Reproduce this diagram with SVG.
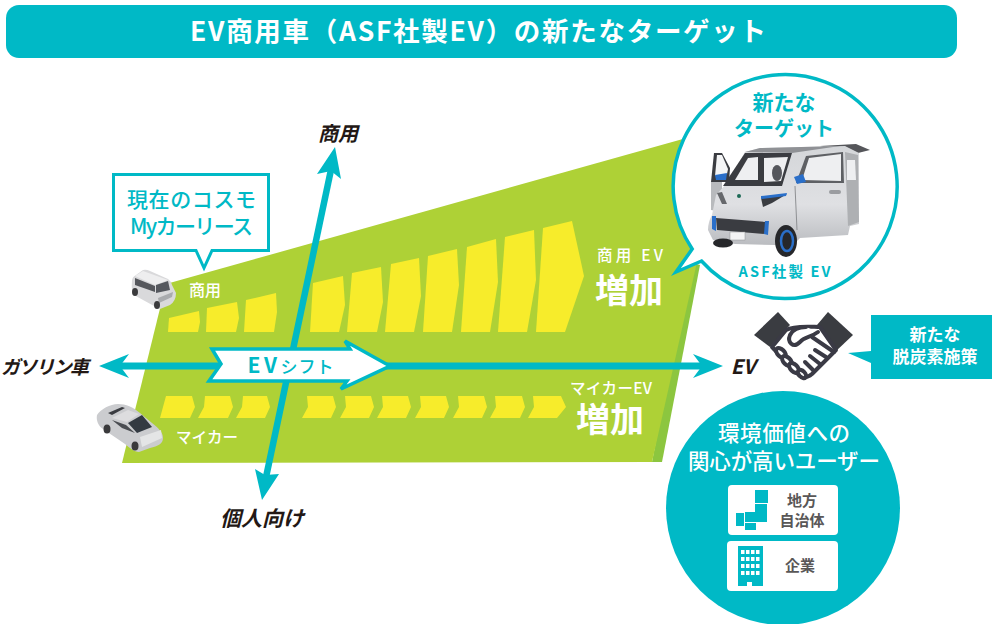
<svg xmlns="http://www.w3.org/2000/svg" width="992" height="624" viewBox="0 0 992 624">
<style>
text{font-family:"Noto Sans CJK JP","Noto Sans",sans-serif;text-anchor:middle}
.w{fill:#fff}.t{fill:#00b9c6}.b{font-weight:700}.m{font-weight:500}
.i{font-style:italic;font-weight:700;fill:#231815}
.y{fill:#f7ec2b}.g{fill:#595757;font-weight:700;font-size:15px}
.ax{stroke:#00b9c6;fill:none}.hd{fill:#00b9c6}
.hs{fill:#fff;stroke:#3a3a45;stroke-width:4;stroke-linejoin:round;stroke-linecap:round}
.dk{fill:#3a3c41}.gl{fill:#eeeff1}.bl{fill:#2a6fc9}.ic{fill:#00b9c6}
</style>
<defs><linearGradient id="silver" x1="0" y1="0" x2="0" y2="1"><stop offset="0" stop-color="#d4d6d9"/><stop offset=".55" stop-color="#dfe0e3"/><stop offset="1" stop-color="#b4b6ba"/></linearGradient></defs>
<rect width="992" height="624" fill="#fff"/>
<g id="title"><rect x="6" y="5" width="951" height="53" rx="13" fill="#00b9c6"/>
<text class="w b" x="478" y="41" font-size="26.500" textLength="576">EV商用車（ASF社製EV）の新たなターゲット</text></g>

<g id="market-area">
<polygon points="652,462 662,462 700,265 690,262" fill="#8cc63f"/>
<polygon points="122,463 166,284 690,137 697,262 652,462" fill="#aed136"/>
<g id="commercial-chevrons" class="y">
<polygon points="168,332 169,318 199,311 200,322 198,332"/>
<polygon points="206,332 207,308 237,302 239,318 236,332"/>
<polygon points="244,332 246,300 276,293 277,312 274,332"/>
<polygon points="310,332 313,283 343,276 345,305 339,332"/>
<polygon points="347,332 352,273 381,267 383,302 377,332"/>
<polygon points="385,332 391,264 419,258 421,296 414,332"/>
<polygon points="423,332 428,256 457,249 459,285 452,332"/>
<polygon points="461,332 467,247 496,239 498,282 490,332"/>
<polygon points="498,332 505,237 534,230 536,280 527,332"/>
<polygon points="536,332 543,228 572,221 584,276 565,332"/>
</g>
<g id="private-chevrons" class="y">
<polygon points="160,418 166,396 192,396 195,407 190,418"/>
<polygon points="198,418 204,407 205,396 230,396 233,407 228,418"/>
<polygon points="236,418 242,407 243,396 267,396 270,407 265,418"/>
<polygon points="302,418 308,407 307,396 333,396 336,407 331,418"/>
<polygon points="340,418 346,407 345,396 371,396 374,407 369,418"/>
<polygon points="377,418 383,407 382,396 408,396 411,407 406,418"/>
<polygon points="415,418 421,407 420,396 446,396 449,407 444,418"/>
<polygon points="453,418 459,407 458,396 484,396 487,407 482,418"/>
<polygon points="490,418 496,407 495,396 522,396 525,407 520,418"/>
<polygon points="528,418 534,407 533,396 561,396 566,407 557,418"/>
</g>
<text class="w m" x="205" y="296" font-size="16">商用</text>
<text class="w m" x="207" y="443" font-size="15.500">マイカー</text>
<text class="w m" x="630" y="261" font-size="15.500" textLength="66">商用 EV</text>
<text class="w b" x="629" y="303" font-size="34">増加</text>
<text class="w m" x="611" y="394" font-size="15.500" textLength="82">マイカーEV</text>
<text class="w b" x="610" y="432" font-size="34">増加</text>
</g>

<g id="connectors">
<line class="ax" stroke-width="6.5" x1="332" y1="165" x2="265" y2="482"/>
<polygon class="hd" points="335,147 341,179 331,171 317,174"/>
<polygon class="hd" points="262,500 255,469 265,475 279,474"/>
<line class="ax" stroke-width="7" x1="115" y1="366" x2="708" y2="366"/>
<polygon class="hd" points="99,366 129,354 120,366 129,378"/>
<polygon class="hd" points="723,366 693,354 702,366 693,378"/>
</g>

<g id="ev-shift">
<polygon points="212,349 350,349 345,341 390,366 341,389 347,381 209,381 221,364" fill="#fff" stroke="#00b9c6" stroke-width="3.500" stroke-linejoin="miter"/>
<text class="t b" x="291" y="373" font-size="21"><tspan letter-spacing="3.500">EV</tspan><tspan font-size="17" font-weight="500" letter-spacing="1">シフト</tspan></text>
</g>

<g id="axis-labels">
<text class="i" x="338" y="141" font-size="20">商用</text>
<text class="i" x="45" y="374" font-size="19" textLength="88">ガソリン車</text>
<text class="i" x="262" y="526" font-size="21">個人向け</text>
<text class="i" x="743" y="374" font-size="20">EV</text>
</g>

<g id="current-callout">
<path d="M113.500,174.500H268.500V250.500H212L204,268L196,250.500H113.500Z" fill="#fff" stroke="#00b9c6" stroke-width="3"/>
<text class="t m" x="191.500" y="207" font-size="21" textLength="129">現在のコスモ</text>
<text class="t m" x="191.500" y="234" font-size="21" textLength="123">Myカーリース</text>
</g>

<g id="mini-van">
<path d="M132,281Q132,277 136,275L143,270Q146,269 150,271L168,279Q171,281 172,285L176,293Q176,301 170,305L160,309Q157,309 154,306L134,295Q131,291 132,281Z" fill="#d9d9db"/>
<polygon points="135,276 143,271 168,280 155,285" fill="#eeeeef"/>
<polygon points="135,278 155,286 155,292 135,285" fill="#55575c"/>
<polygon points="156,285 168,281 170,290 156,293" fill="#55585e"/>
<polygon points="158,298 173,292 172,297 159,303" fill="#a9abae"/>
<ellipse cx="135" cy="292" rx="3" ry="4" fill="#3a3a3c"/><ellipse cx="157" cy="305" rx="3" ry="4" fill="#3a3a3c"/>
</g>

<g id="sedan">
<path d="M97,415C101,409 110,404 118,404C126,404 133,407 140,413L152,423C158,428 163,432 163,438C163,444 158,446 150,448L139,452C134,452 130,448 125,444L103,429C98,426 96,420 97,415Z" fill="#cbcccf"/>
<polygon points="108,413 122,407 125,408 112,415" class="dk"/>
<polygon points="112,418 128,410 139,414 127,422" fill="#dddddf"/>
<polygon points="112,420 126,425 135,433 122,428" fill="#4a4d52"/>
<polygon points="128,423 142,415 152,427 137,433" fill="#333a42"/>
<polygon points="140,437 161,430 162,438 142,447" fill="#e4e5e6"/>
<ellipse cx="107" cy="429" rx="3.500" ry="4.500" fill="#3a3a3c"/><ellipse cx="135" cy="446" rx="3.500" ry="4.500" fill="#3a3a3c"/>
</g>

<g id="target-bubble">
<path d="M692.200,249A112,112 0 1 1 701.500,261L676,272Z" fill="#fff" stroke="#00b9c6" stroke-width="3.500" stroke-linejoin="miter"/>
<text class="t b" x="784" y="110" font-size="21">新たな</text>
<text class="t b" x="784" y="136" font-size="20">ターゲット</text>
<text class="t b" x="784.500" y="277" font-size="14.500" textLength="92">ASF社製 EV</text>
<g id="ev-car">
<path d="M820,146L856,144L870,150L858,153L838,151Z" fill="#55565a"/>
<polygon points="711,182 714,153 722,153 730,168 729,182" class="dk"/>
<polygon points="715,176 717,155 722,155 728,169 727,174" fill="#f4f5f6"/>
<polygon points="715,175 727,173 726,180 716,180" class="bl"/>
<polygon points="711,182 722,182 722,212 711,210" fill="#b8babd"/>
<path d="M745,152L760,148L845,146L859,153L859,224L850,226L848,235L800,238L786,252L775,245L735,244L713,240L708,230Q708,222 712,215L716,195L727,183Z" fill="url(#silver)"/>
<polygon points="745,152 760,148 840,146 792,153" fill="#8f9195"/>
<polygon points="723,186 745,153 792,153 782,186" fill="#3a3c41"/>
<polygon points="735,180 748,158 758,157 758,180" class="gl"/>
<polygon points="764,158 788,157 781,181 764,182" class="gl"/>
<ellipse cx="777" cy="173" rx="5" ry="8" fill="#55575c"/>
<polygon points="796,183 806,156 843,152 844,183" fill="#5e6064"/>
<polygon points="802,180 809,158 841,154 841,181" class="gl"/>
<polygon points="845,152 858,155 859,222 848,226" fill="#aeb0b3"/>
<polygon points="847,160 855,160 856,180 847,180" fill="#eeeff1"/>
<polygon points="794,177 803,174 806,182 797,184" class="bl"/>
<line x1="795" y1="186" x2="797" y2="230" stroke="#8e9093" stroke-width="1"/>
<rect x="829" y="190" width="12" height="4" rx="2" fill="#9a9ca0"/>
<polygon points="761,198 787,194 772,203 763,207" class="dk"/>
<polygon points="761,196 787,193 786,196 761,199" class="bl"/>
<polygon points="717,193 722,192 727,204 722,204" fill="#66686c"/>
<circle cx="739" cy="196" r="2" fill="#1d6a55"/>
<polygon points="716,218 766,222 765,234 717,230" class="dk"/>
<polygon points="712,216 716,216 716,231 712,229" class="bl"/><polygon points="765,221 769,221 768,235 764,234" class="bl"/>
<rect x="730" y="232" width="15" height="8" fill="#f4f4f5" stroke="#8e9093" stroke-width=".5"/>
<ellipse cx="723" cy="243" rx="10" ry="4.500" fill="#26272a"/>
<ellipse cx="786" cy="241" rx="11" ry="16" fill="#26272a"/>
<ellipse cx="787" cy="241" rx="6" ry="10" fill="none" stroke="#2a6fc9" stroke-width="2.500"/>
</g>
</g>

<g id="handshake">
<polygon class="dk" points="778,312 790,325 770,347 754,335"/>
<polygon class="dk" points="828,312 853,335 835,352 817,325"/>
<path class="hs" d="M786,330C795,325 812,327 820,327L836,350L812,374C806,379 801,378 797,373L772,347Z"/>
<path class="hs" fill="none" d="M818,332C810,338 805,336 800,342C793,349 787,342 790,335C793,329 800,327 806,327"/>
<path class="hs" d="M812,337L834,352"/>
<g class="hs"><ellipse cx="781" cy="353" rx="6" ry="3.500" transform="rotate(45 781 353)"/><ellipse cx="787" cy="361" rx="6" ry="3.500" transform="rotate(45 787 361)"/><ellipse cx="794" cy="368" rx="6" ry="3.500" transform="rotate(45 794 368)"/><ellipse cx="802" cy="374" rx="5" ry="3" transform="rotate(45 802 374)"/></g>
<path class="hs" d="M826,357L815,350M820,364L810,356M813,370L805,362"/>
</g>

<g id="decarbonization">
<polygon points="871,315 992,315 992,379 871,379 871,363 848,353 871,351" fill="#00b9c6"/>
<text class="w b" x="935" y="341" font-size="17">新たな</text>
<text class="w b" x="935" y="363" font-size="17">脱炭素施策</text>
</g>

<g id="users">
<circle cx="783" cy="508" r="117" fill="#00b9c6"/>
<text class="w m" x="784" y="441" font-size="21.500" textLength="132">環境価値への</text>
<text class="w m" x="784" y="469" font-size="21.500" textLength="192">関心が高いユーザー</text>
</g>
<g id="local-gov">
<rect x="728" y="485" width="110" height="50" rx="4" fill="#fff"/>
<rect class="ic" x="755" y="490" width="13" height="13"/>
<polygon class="ic" points="755,504 767,504 767,522 745,522 745,512 755,512"/>
<rect class="ic" x="736" y="513" width="8" height="13"/>
<rect class="ic" x="745" y="523" width="11" height="7"/>
<text class="g" x="802" y="506">地方</text><text class="g" x="802" y="526">自治体</text>
</g>
<g id="company">
<rect x="727" y="541" width="111" height="50" rx="4" fill="#fff"/>
<path class="ic" d="M738,546H763V586H752V582H747V586H738Z"/>
<g fill="#fff"><rect x="741" y="550" width="3.500" height="4"/><rect x="746" y="550" width="3.500" height="4"/><rect x="751" y="550" width="3.500" height="4"/><rect x="756" y="550" width="3.500" height="4"/><rect x="741" y="557" width="3.500" height="4"/><rect x="746" y="557" width="3.500" height="4"/><rect x="751" y="557" width="3.500" height="4"/><rect x="756" y="557" width="3.500" height="4"/><rect x="741" y="564" width="3.500" height="4"/><rect x="746" y="564" width="3.500" height="4"/><rect x="751" y="564" width="3.500" height="4"/><rect x="756" y="564" width="3.500" height="4"/><rect x="741" y="571" width="3.500" height="4"/><rect x="746" y="571" width="3.500" height="4"/><rect x="751" y="571" width="3.500" height="4"/><rect x="756" y="571" width="3.500" height="4"/></g>
<text class="g" x="800" y="571">企業</text>
</g>
</svg>
